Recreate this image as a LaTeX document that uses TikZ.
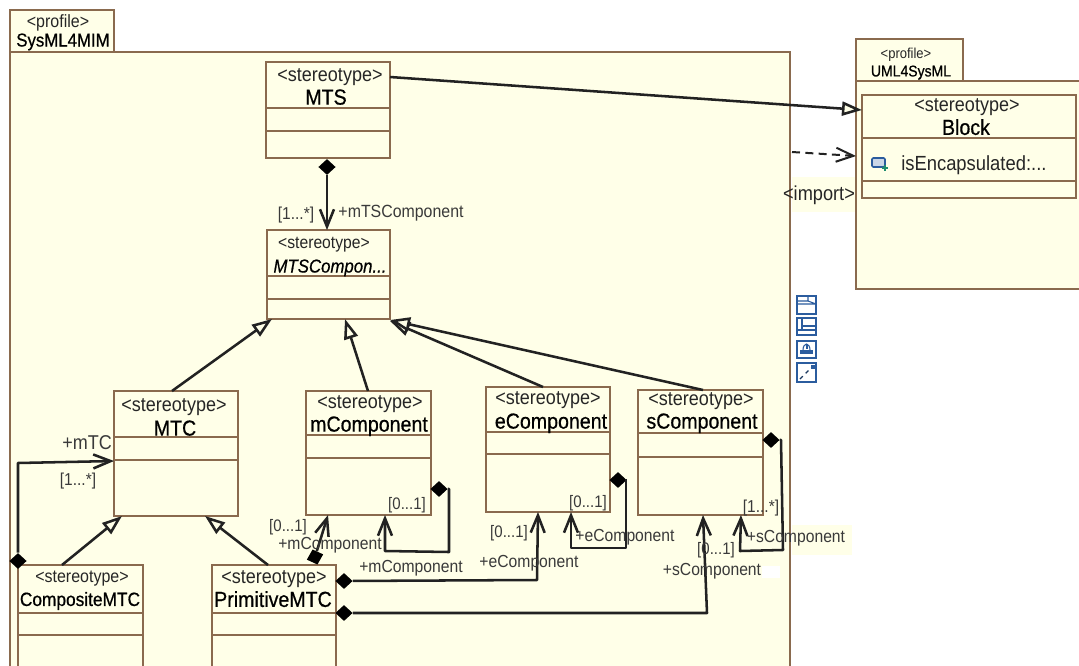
\documentclass[tikz,border=0pt]{standalone}
\usepackage{fontspec}
\setmainfont[FakeStretch=0.9]{Liberation Sans}
\newfontfamily\heavyfont[FakeBold=0.6,FakeStretch=0.9]{Liberation Sans}
\usetikzlibrary{arrows.meta,shapes.geometric}
\definecolor{boxfill}{HTML}{FFFFE8}
\definecolor{boxline}{HTML}{8A6A4E}
\definecolor{conn}{HTML}{222222}
\definecolor{labelc}{HTML}{3A3A3A}
\definecolor{iconc}{HTML}{2B5C9E}
\newcommand{\pxfont}[1]{\fontsize{\dimexpr#1pt*5/6\relax}{\dimexpr#1pt*5/6\relax}\selectfont}
\tikzset{
  umlbox/.style={draw=boxline,fill=boxfill,line width=1.2pt,inner sep=0pt,outer sep=0pt},
  sep/.style={draw=boxline,line width=1.1pt},
  conline/.style={draw=conn,line width=1.9pt,line join=round},
  gen/.style={conline,-{Triangle[length=15pt,width=10.5pt,fill=boxfill]}},
  assoc/.style={conline,-{Straight Barb[length=13pt,width=10.5pt]}},
  dep/.style={conn,line width=1.5pt,dash pattern=on 6pt off 4pt,-{Straight Barb[length=13pt,width=10.5pt]}},
  comp/.style={diamond,aspect=1,fill=black,inner sep=0pt,minimum width=13pt,minimum height=12pt},
  st/.style={inner sep=0pt,text depth=0pt,text=black!85,font=\pxfont{18}},
  nm/.style={inner sep=0pt,text depth=0pt,text=black,font=\heavyfont\pxfont{19.6}},
  lb/.style={inner sep=0pt,text depth=0pt,text=labelc,font=\pxfont{15.7}},
  mult/.style={inner sep=0pt,text depth=0pt,text=labelc,font=\pxfont{15}},
  icon/.style={draw=iconc,line width=0.9pt,fill=white},
}
\newcommand{\umlboxat}[7]{%
  \node[umlbox,minimum width={(#4-#2)*0.75pt},minimum height={(#5-#3)*0.75pt}] (#1) at ({(#2+#4)/2},{(#3+#5)/2}) {};
  \draw[sep] (#1.west |- 0,#6) -- (#1.east |- 0,#6);
  \draw[sep] (#1.west |- 0,#7) -- (#1.east |- 0,#7);}
\begin{document}
\begin{tikzpicture}[x=0.75pt,y=-0.75pt]
\useasboundingbox (0,0) rectangle (1079,665);
\clip (0,0) rectangle (1079,665);
\fill[white] (0,0) rectangle (1079,665);

% packages
\node[umlbox,minimum width={104*0.75pt},minimum height={42*0.75pt}] (tabA) at (62,31) {};
\node[umlbox,minimum width={780*0.75pt},minimum height={640*0.75pt}] (pkgA) at (400,372) {};
\node[umlbox,minimum width={107*0.75pt},minimum height={42*0.75pt}] (tabB) at (909.5,60) {};
\node[umlbox,minimum width={260*0.75pt},minimum height={208*0.75pt}] (pkgB) at (986,185) {};

% label backdrops
\fill[boxfill] (792,177) rectangle (855,212);
\fill[boxfill] (792,525) rectangle (852,555);
\fill[white] (762,566) rectangle (780,578);

% classes
\umlboxat{mts}{266}{62}{390}{158}{108}{131}
\umlboxat{mtsc}{267}{230}{390}{319}{276}{299}
\umlboxat{mtc}{114}{391}{238}{516}{437}{460}
\umlboxat{mcomp}{306}{391}{431}{515}{435}{458}
\umlboxat{ecomp}{486}{387}{610}{512}{432}{454}
\umlboxat{scomp}{638}{390}{763}{515}{433}{457}
\umlboxat{cmtc}{18}{565}{143}{700}{613}{635}
\umlboxat{pmtc}{212}{565}{336}{700}{613}{635}
\umlboxat{block}{862}{95}{1076}{198}{138}{181}

% composition diamonds
\node[comp] (d1) at (327,167) {};
\node[comp] (d2) at (18,561) {};
\node[comp,rotate=18] (d3) at (315,557) {};
\node[comp] (d4) at (344,581) {};
\node[comp] (d5) at (344,613) {};
\node[comp] (d6) at (439,489) {};
\node[comp] (d7) at (618,480) {};
\node[comp] (d8) at (771,440) {};

% connectors
\draw[gen] (mts.east |- 0,77) -- (block.west |- 0,110);
\coordinate (impS) at (792,152);
\draw[dep] (impS) -- (pkgB.west |- 0,156);
\draw[assoc] (d1) -- (d1 |- mtsc.north);
\draw[gen] (mtc.north -| 172,0) -- (mtsc.south -| 272,0);
\draw[gen] (mcomp.north -| 368,0) -- (mtsc.south -| 345,0);
\draw[gen] (ecomp.north -| 543,0) -- (390,321);
\draw[gen] (scomp.north -| 703,0) -- (390,320);
\draw[gen] (cmtc.north -| 62,0) -- (mtc.south -| 122,0);
\draw[gen] (pmtc.north -| 268,0) -- (mtc.south -| 205,0);
\draw[assoc] (d2) -- (18,463) -- (mtc.west |- 0,461);
\draw[assoc] (d3) -- (mcomp.south -| 328,0);
\draw[assoc] (d6) -- (449,489) -- (449,552) -- (385,551) -- (mcomp.south -| 385,0);
\draw[assoc] (d4) -- (537,580) -- (ecomp.south -| 538,0);
\draw[assoc] (d5) -- (707,613) -- (scomp.south -| 703,0);
\draw[assoc] (d7) -- (626,480) -- (626,548) -- (571,548) -- (ecomp.south -| 571,0);
\draw[assoc] (d8) -- (781,440) -- (783,550) -- (740,551) -- (scomp.south -| 741,0);

% package titles
\node[st,font=\pxfont{16}] (tA1) at (58,21) {<profile>};
\node[nm,font=\heavyfont\pxfont{16.8}] (tA2) at (63,40) {SysML4MIM};
\node[st,font=\pxfont{13}] (tB1) at (906,53) {<profile>};
\node[nm,font=\heavyfont\pxfont{14}] (tB2) at (911,71) {UML4SysML};

% class titles
\node[st] (s1) at (330,75) {<stereotype>};
\node[nm] (n1) at (326,97) {MTS};
\node[st,font=\pxfont{15.7}] (s2) at (324,243) {<stereotype>};
\node[nm,font=\heavyfont\itshape\pxfont{16.8}] (n2) at (330,266) {MTSCompon...};
\node[st] (s3) at (174,405) {<stereotype>};
\node[nm] (n3) at (175,428) {MTC};
\node[st] (s4) at (370,402) {<stereotype>};
\node[nm] (n4) at (369,424) {mComponent};
\node[st] (s5) at (548,398) {<stereotype>};
\node[nm] (n5) at (551,421) {eComponent};
\node[st] (s6) at (701,399) {<stereotype>};
\node[nm] (n6) at (702,421) {sComponent};
\node[st,font=\pxfont{16}] (s7) at (82,577) {<stereotype>};
\node[nm,font=\heavyfont\pxfont{17.3}] (n7) at (80,599) {CompositeMTC};
\node[st] (s8) at (274,577) {<stereotype>};
\node[nm] (n8) at (273,599) {PrimitiveMTC};
\node[st] (s9) at (967,105) {<stereotype>};
\node[nm] (n9) at (966,127) {Block};

% attribute
\node[st,font=\pxfont{18.4},anchor=west] (attr) at (901,163) {isEncapsulated:...};
\draw[iconc,line width=1.2pt,fill=iconc!25,rounded corners=1pt] (872,158) rectangle (885,167);
\draw[iconc!70!green,line width=0.9pt] (885,165) -- (885,171) (882,168) -- (888,168);

% labels
\node[st,font=\pxfont{18.2}] (imp) at (819,193) {<import>};
\node[mult,font=\pxfont{15.5}] (m1) at (296,213) {[1...*]};
\node[lb,font=\pxfont{15.9}] (r1) at (401,211) {+mTSComponent};
\node[lb,font=\pxfont{18}] (r2) at (87,443) {+mTC};
\node[mult,font=\pxfont{15.5}] (m2) at (78,479) {[1...*]};
\node[mult] (m3) at (288,525) {[0...1]};
\node[lb] (r3) at (330,543) {+mComponent};
\node[mult] (m4) at (407,503) {[0...1]};
\node[lb] (r4) at (411,566) {+mComponent};
\node[mult] (m5) at (509,531) {[0...1]};
\node[lb] (r5) at (529,561) {+eComponent};
\node[mult] (m6) at (588,501) {[0...1]};
\node[lb] (r6) at (625,535) {+eComponent};
\node[mult] (m7) at (716,548) {[0...1]};
\node[lb] (r7) at (712,569) {+sComponent};
\node[mult,font=\pxfont{15.5}] (m8) at (761,506) {[1...*]};
\node[lb] (r8) at (796,536) {+sComponent};

% tool icons
\draw[icon] (797,296) rectangle (816,314);
\draw[iconc,line width=0.8pt] (797,301) -- (808,301) -- (808,296) (808,301) -- (816,304) (797,304) -- (816,304);
\draw[icon] (797,318) rectangle (816,335);
\draw[iconc,line width=0.8pt] (802,318) -- (802,329) (802,326) -- (816,326) (797,330) -- (816,330);
\draw[icon] (797,341) rectangle (816,358);
\fill[iconc] (800,350) rectangle (813,354);
\fill[iconc] (806,344) rectangle (808,349);
\draw[iconc,line width=0.8pt] (803,350) arc (180:360:3.5 and 6);
\draw[icon] (797,363) rectangle (816,382);
\draw[iconc!60!black,line width=0.9pt,dashed] (800,379) -- (813,366);
\fill[iconc] (811,365) rectangle (815,369);
\end{tikzpicture}
\end{document}
